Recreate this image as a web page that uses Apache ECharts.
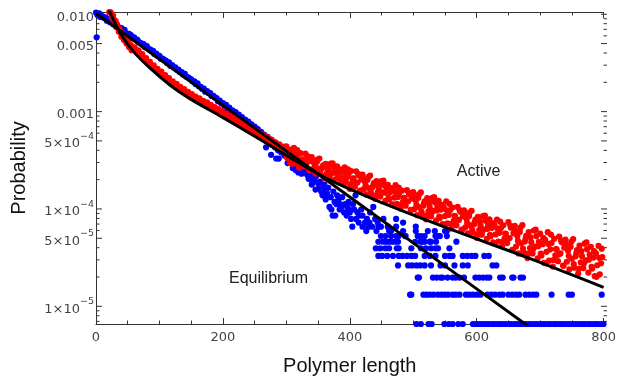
<!DOCTYPE html>
<html><head><meta charset="utf-8">
<script src="https://cdn.jsdelivr.net/npm/echarts/dist/echarts.min.js"></script>
<style>html,body{margin:0;padding:0;background:#fff}#c{width:619px;height:381px}</style>
</head><body><div id="c"></div>
<script>
// ---------------- data ----------------
const xTickValues = [0, 200, 400, 600, 800];
const yMajorTicks = [0.01, 0.005, 0.001, 5e-4, 1e-4, 5e-5, 1e-5];
const yMajorLabels = ['0.010', '0.005', '0.001', '5×10^−4', '1×10^−4', '5×10^−5', '1×10^−5'];
const yMinorTicks = [9e-3, 8e-3, 7e-3, 6e-3, 4e-3, 3e-3, 2e-3, 9e-4, 8e-4, 7e-4, 6e-4, 4e-4, 3e-4, 2e-4,
  9e-5, 8e-5, 7e-5, 6e-5, 4e-5, 3e-5, 2e-5, 9e-6, 8e-6, 7e-6];
const yRange = [6.58e-6, 0.01055];

// equilibrium (blue) points: dense band along the fit
const eqBand = [[0,1.04e-2],[1,5.8e-3],[2,9.9e-3],[5,1.02e-2],[7,9.4e-3],[10,9.6e-3],[12,9.2e-3],[15,9.3e-3],[17,8.6e-3],[20,8.9e-3],[22,8.3e-3],[25,8.4e-3],[27,7.9e-3],[30,8.1e-3],[32,7.5e-3],[35,7.4e-3],[37,7.3e-3],[40,7.2e-3],[42,6.8e-3],[45,6.9e-3],[47,6.4e-3],[50,6.3e-3],[52,6.3e-3],[55,6.1e-3],[57,5.7e-3],[60,5.8e-3],[62,5.5e-3],[65,5.5e-3],[67,5.2e-3],[70,5.1e-3],[72,5.0e-3],[75,4.95e-3],[77,4.6e-3],[80,4.7e-3],[82,4.45e-3],[85,4.35e-3],[87,4.25e-3],[90,4.2e-3],[92,3.9e-3],[95,3.95e-3],[97,3.75e-3],[100,3.75e-3],[102,3.5e-3],[105,3.5e-3],[107,3.4e-3],[110,3.35e-3],[112,3.15e-3],[115,3.2e-3],[117,2.95e-3],[120,3.0e-3],[122,2.85e-3],[125,2.85e-3],[127,2.7e-3],[130,2.7e-3],[132,2.55e-3],[135,2.55e-3],[137,2.4e-3],[140,2.45e-3],[142,2.3e-3],[145,2.25e-3],[147,2.2e-3],[150,2.15e-3],[152,2.05e-3],[155,2.05e-3],[157,1.92e-3],[160,1.95e-3],[162,1.82e-3],[165,1.8e-3],[167,1.72e-3],[170,1.72e-3],[172,1.6e-3],[175,1.62e-3],[177,1.55e-3],[180,1.55e-3],[182,1.45e-3],[185,1.45e-3],[187,1.4e-3],[190,1.38e-3],[192,1.28e-3],[195,1.3e-3],[197,1.22e-3],[200,1.22e-3],[202,1.15e-3],[205,1.17e-3],[207,1.06e-3],[210,1.1e-3],[212,1.0e-3],[215,1.03e-3],[217,9.6e-4],[220,9.9e-4],[222,9.0e-4],[225,9.3e-4],[227,8.5e-4],[230,8.8e-4],[232,8.0e-4],[235,8.3e-4],[237,7.6e-4],[240,7.9e-4],[242,7.2e-4],[245,7.4e-4],[247,6.8e-4],[250,7.0e-4],[252,6.4e-4],[255,6.6e-4],[257,6.0e-4],[260,6.2e-4],[262,5.6e-4],[265,5.8e-4],[267,5.3e-4],[268,4.3e-4],[270,5.5e-4],[272,4.9e-4],[275,5.2e-4],[276,3.6e-4],[277,4.6e-4],[280,4.9e-4],[282,4.3e-4],[284,3.3e-4],[285,4.6e-4],[287,4.0e-4],[290,4.3e-4],[292,3.8e-4],[295,4.0e-4],[297,3.55e-4],[300,3.85e-4],[302,3.4e-4]];

// equilibrium cloud where the band breaks up
const eqCloud = [[288,3.29e-4],[302,2.96e-4],[305,3.42e-4],[308,3.75e-4],[310,2.63e-4],[312,3.03e-4],[313,2.63e-4],[315,2.50e-4],[316,3.29e-4],[318,2.76e-4],[319,2.37e-4],[322,2.90e-4],[324,2.30e-4],[326,2.63e-4],[328,2.37e-4],[330,2.50e-4],[333,2.24e-4],[335,2.04e-4],[337,2.30e-4],[340,1.78e-4],[340,2.11e-4],[341,1.84e-4],[344,1.97e-4],[346,1.58e-4],[347,2.17e-4],[350,1.84e-4],[352,1.65e-4],[353,1.91e-4],[355,1.51e-4],[356,1.71e-4],[357,1.38e-4],[358,1.58e-4],[360,1.78e-4],[362,1.32e-4],[362,1.25e-4],[364,1.45e-4],[366,1.65e-4],[368,1.05e-4],[370,1.32e-4],[371,9.87e-5],[373,8.55e-5],[374,1.51e-4],[376,1.18e-4],[377,8.55e-5],[379,1.12e-4],[380,1.38e-4],[382,1.25e-4],[384,9.87e-5],[385,1.12e-4],[387,1.05e-4],[388,1.32e-4],[391,9.21e-5],[393,1.12e-4],[395,8.55e-5],[396,1.05e-4],[398,1.18e-4],[399,9.87e-5],[400,9.21e-5],[402,7.90e-5],[404,6.58e-5],[405,1.12e-4],[407,9.87e-5],[409,1.38e-4],[410,7.90e-5],[412,9.21e-5],[414,7.24e-5],[415,8.55e-5],[418,9.87e-5],[420,6.58e-5],[420,8.55e-5],[424,7.24e-5],[426,5.92e-5],[427,7.90e-5],[429,6.58e-5],[431,7.24e-5],[432,9.21e-5],[435,6.58e-5],[437,1.05e-4],[440,7.90e-5],[442,5.92e-5],[444,7.24e-5],[449,6.58e-5],[453,7.90e-5],[457,4.61e-5],[460,6.58e-5],[462,5.92e-5],[473,7.90e-5],[484,7.24e-5],[488,5.26e-5],[504,5.92e-5],[515,4.61e-5],[526,4.61e-5],[535,5.26e-5],[542,5.26e-5],[553,5.92e-5],[568,4.61e-5]];

// equilibrium tail: discrete count levels and the lengths where they occur
const eqTailLevels = [6.58e-6, 1.316e-5, 1.974e-5, 2.632e-5, 3.29e-5, 3.948e-5, 4.606e-5, 5.264e-5, 5.922e-5, 6.58e-5];
const eqTailX = [
  [505,512,524,529,549,556,562,571,578,594,598,602,606,611,615,619,624,628,633,637,641,646,651,655,660,664,669,673,677,682,686,691,695,700,704,708,713,717,722,726,731,735,739,744,748,753,757,762,766,770,775,779,784,788,792,797,800],
  [495,497,516,521,526,532,539,545,550,555,562,567,573,583,588,594,600,606,617,623,629,636,641,650,656,662,667,677,683,689,694,718,745,750,797],
  [507,509,531,537,543,546,554,562,567,573,580,598,604,610,616,620,637,641,656,658,669,673],
  [476,492,498,505,511,518,528,543,550,565,578,586,625,631],
  [445,451,459,468,477,483,490,497,503,518,526,535,550,557,562,578,585,592,598,612,619],
  [441,448,456,462,474,477,497,512,520,528,535,539,557],
  [445,452,461,466,471,476,503,511,518,528,536],
  [449,456,465,473,477,487,507,512,518,539,553],
  [465,484,523,534,550],
  [445,460,473,504]
];

// active (red) points
const actHead = [[21,1.05e-2],[23,1.047e-2],[25,1.0e-2],[25,9.33e-3],[27,9.66e-3],[28,8.51e-3],[29,8.71e-3],[31,8.51e-3],[32,7.41e-3],[33,7.94e-3],[35,7.24e-3],[36,6.61e-3],[37,7.08e-3],[39,6.53e-3],[40,5.89e-3],[41,6.38e-3],[43,5.96e-3],[44,5.43e-3],[45,5.89e-3],[47,5.56e-3],[48,5.01e-3],[49,5.37e-3],[51,5.13e-3],[52,4.62e-3],[53,4.90e-3],[55,4.79e-3],[56,4.27e-3],[57,4.62e-3],[59,4.37e-3],
[61,4.57e-3],[64,4.07e-3],[67,4.27e-3],[70,3.76e-3],[73,3.89e-3],[76,3.39e-3],[79,3.55e-3],[82,3.16e-3],[85,3.24e-3],[88,2.88e-3],[91,2.99e-3],[94,2.66e-3],[97,2.75e-3],[100,2.48e-3],[103,2.57e-3],[106,2.29e-3],[109,2.37e-3],[112,2.11e-3],[115,2.21e-3],[118,1.97e-3],[121,2.04e-3],[124,1.84e-3],[127,1.93e-3],[130,1.74e-3],[133,1.80e-3],[136,1.62e-3],[139,1.70e-3],[142,1.53e-3],[145,1.60e-3],[148,1.445e-3],[151,1.51e-3],[154,1.38e-3],[157,1.43e-3],[160,1.30e-3],[163,1.365e-3],[166,1.23e-3],[169,1.29e-3],[172,1.175e-3],[175,1.245e-3],[178,1.11e-3],[181,1.175e-3],[184,1.06e-3],[187,1.11e-3],[190,1.0e-3],[193,1.06e-3],[196,9.55e-4],[199,1.01e-3],[202,9.02e-4],[205,9.55e-4],[208,8.61e-4],[211,9.12e-4],[214,8.13e-4],[217,8.61e-4],[220,7.67e-4],[223,8.22e-4],[226,7.33e-4],[229,7.76e-4],[232,6.92e-4],[235,7.41e-4],[238,6.53e-4],[241,7.0e-4],[244,6.17e-4],[247,6.61e-4],[250,5.89e-4],[253,6.31e-4],[256,5.56e-4],[259,5.96e-4],[262,5.25e-4],[265,5.69e-4],[268,5.01e-4],[271,5.43e-4],[274,4.73e-4],[277,5.13e-4],[280,4.52e-4],[283,4.84e-4],[286,4.27e-4],[289,4.62e-4],[292,4.03e-4],[295,4.37e-4],[298,3.89e-4]];

const actTail = [[300,4.40e-4],[302,3.31e-4],[304,3.78e-4],[306,2.97e-4],[308,3.93e-4],
[310,3.35e-4],[312,4.25e-4],[314,2.94e-4],[316,3.37e-4],[318,3.61e-4],
[320,2.67e-4],[322,3.74e-4],[324,3.01e-4],[326,3.22e-4],[328,2.75e-4],
[330,3.71e-4],[332,2.97e-4],[334,3.40e-4],[336,2.51e-4],[338,3.11e-4],
[340,3.40e-4],[342,2.57e-4],[344,2.93e-4],[346,2.31e-4],[348,3.04e-4],
[350,2.60e-4],[352,3.29e-4],[354,2.29e-4],[356,2.61e-4],[358,2.80e-4],
[360,2.07e-4],[362,2.91e-4],[364,2.34e-4],[366,2.52e-4],[368,2.16e-4],
[370,2.92e-4],[372,2.35e-4],[374,2.69e-4],[376,2.00e-4],[378,2.49e-4],
[380,2.74e-4],[382,2.07e-4],[384,2.36e-4],[386,1.86e-4],[388,2.46e-4],
[390,2.10e-4],[392,2.67e-4],[394,1.86e-4],[396,2.12e-4],[398,2.29e-4],
[400,1.61e-4],[402,2.45e-4],[404,1.88e-4],[406,2.05e-4],[408,1.69e-4],
[410,2.44e-4],[412,1.87e-4],[414,2.22e-4],[416,1.54e-4],[418,2.01e-4],
[420,2.26e-4],[422,1.60e-4],[424,1.89e-4],[426,1.41e-4],[428,1.99e-4],
[430,1.64e-4],[432,2.20e-4],[434,1.42e-4],[436,1.67e-4],[438,1.84e-4],
[440,1.27e-4],[442,1.93e-4],[444,1.48e-4],[446,1.62e-4],[448,1.34e-4],
[450,1.93e-4],[452,1.48e-4],[454,1.75e-4],[456,1.21e-4],[458,1.58e-4],
[460,1.77e-4],[462,1.26e-4],[464,1.49e-4],[466,1.12e-4],[468,1.58e-4],
[470,1.31e-4],[472,1.76e-4],[474,1.13e-4],[476,1.33e-4],[478,1.46e-4],
[480,1.01e-4],[482,1.54e-4],[484,1.19e-4],[486,1.30e-4],[488,1.08e-4],
[490,1.56e-4],[492,1.20e-4],[494,1.41e-4],[496,9.79e-5],[498,1.28e-4],
[500,1.49e-4],[502,9.98e-5],[504,1.22e-4],[506,8.65e-5],[508,1.30e-4],
[510,1.04e-4],[512,1.48e-4],[514,8.81e-5],[516,1.08e-4],[518,1.20e-4],
[520,7.83e-5],[522,1.29e-4],[524,9.44e-5],[526,1.05e-4],[528,8.41e-5],
[530,1.30e-4],[532,9.57e-5],[534,1.17e-4],[536,7.62e-5],[538,1.05e-4],
[540,1.21e-4],[542,8.09e-5],[544,9.86e-5],[546,7.01e-5],[548,1.05e-4],
[550,8.45e-5],[552,1.20e-4],[554,7.11e-5],[556,8.69e-5],[558,9.68e-5],
[560,6.30e-5],[562,1.035e-4],[564,7.59e-5],[566,8.47e-5],[568,6.79e-5],
[570,1.05e-4],[572,7.71e-5],[574,9.40e-5],[576,6.12e-5],[578,8.41e-5],
[580,9.66e-5],[582,6.47e-5],[584,7.89e-5],[586,5.62e-5],[588,8.45e-5],
[590,6.78e-5],[592,9.59e-5],[594,5.70e-5],[596,6.97e-5],[598,7.76e-5],
[600,5.05e-5],[602,8.30e-5],[604,6.08e-5],[606,6.79e-5],[608,5.44e-5],
[610,8.43e-5],[612,6.19e-5],[614,7.57e-5],[616,4.94e-5],[618,6.81e-5],
[620,7.83e-5],[622,5.25e-5],[624,6.40e-5],[626,4.55e-5],[628,6.84e-5],
[630,5.48e-5],[632,7.78e-5],[634,4.63e-5],[636,5.68e-5],[638,6.34e-5],
[640,4.13e-5],[642,6.79e-5],[644,4.98e-5],[646,5.56e-5],[648,4.46e-5],
[650,7.34e-5],[652,5.02e-5],[654,6.43e-5],[656,3.80e-5],[658,5.64e-5],
[660,6.70e-5],[662,4.11e-5],[664,5.27e-5],[666,3.49e-5],[668,5.79e-5],
[670,4.44e-5],[672,6.82e-5],[674,3.61e-5],[676,4.62e-5],[678,5.30e-5],
[680,3.13e-5],[682,5.79e-5],[684,3.97e-5],[686,4.56e-5],[688,3.49e-5],
[690,6.01e-5],[692,4.11e-5],[694,5.26e-5],[696,3.10e-5],[698,4.60e-5],
[700,5.57e-5],[702,3.33e-5],[704,4.35e-5],[706,2.80e-5],[708,4.81e-5],
[710,3.63e-5],[712,5.77e-5],[714,2.94e-5],[716,3.85e-5],[718,4.47e-5],
[720,2.56e-5],[722,4.95e-5],[724,3.33e-5],[726,3.85e-5],[728,2.91e-5],
[730,5.20e-5],[732,3.49e-5],[734,4.56e-5],[736,2.62e-5],[738,4.00e-5],
[740,4.83e-5],[742,2.87e-5],[744,3.73e-5],[746,2.39e-5],[748,4.09e-5],
[750,3.08e-5],[752,4.89e-5],[754,2.49e-5],[756,3.26e-5],[758,3.78e-5],
[760,2.17e-5],[762,4.20e-5],[764,2.82e-5],[766,3.27e-5],[768,2.47e-5],
[770,4.41e-5],[772,2.96e-5],[774,3.86e-5],[776,2.22e-5],[778,3.39e-5],
[780,4.09e-5],[782,2.44e-5],[784,3.17e-5],[786,2.04e-5],[788,3.50e-5],
[790,2.64e-5],[792,4.18e-5],[794,2.13e-5],[796,2.77e-5],[798,3.21e-5]];

// further active points between the ones above
const actTailB = [[301,3.40e-4],[305,4.08e-4],[309,2.92e-4],[313,3.65e-4],[317,4.03e-4],[321,2.88e-4],[325,3.24e-4],[329,2.97e-4],[333,3.49e-4],[337,2.49e-4],
[341,3.18e-4],[345,2.74e-4],[349,3.22e-4],[353,2.40e-4],[357,2.70e-4],[361,2.19e-4],[365,2.69e-4],[369,2.29e-4],[373,2.94e-4],[377,2.35e-4],
[381,2.12e-4],[385,2.55e-4],[389,1.83e-4],[393,2.30e-4],[397,2.55e-4],[401,1.77e-4],[405,2.06e-4],[409,1.86e-4],[413,2.29e-4],[417,1.53e-4],
[421,2.08e-4],[425,1.74e-4],[429,2.13e-4],[433,1.50e-4],[437,1.75e-4],[441,1.36e-4],[445,1.76e-4],[449,1.44e-4],[453,1.95e-4],[457,1.47e-4],
[461,1.30e-4],[465,1.64e-4],[469,1.10e-4],[473,1.46e-4],[477,1.66e-4],[481,1.11e-4],[485,1.30e-4],[489,1.19e-4],[493,1.46e-4],[497,9.73e-5],
[501,1.35e-4],[505,1.10e-4],[509,1.41e-4],[513,9.40e-5],[517,1.14e-4],[521,8.51e-5],[525,1.16e-4],[529,9.16e-5],[533,1.32e-4],[537,9.64e-5],
[541,8.37e-5],[545,1.10e-4],[549,6.89e-5],[553,9.66e-5],[557,1.13e-4],[561,7.06e-5],[565,8.51e-5],[569,7.60e-5],[573,9.75e-5],[577,6.08e-5],
[581,8.79e-5],[585,7.18e-5],[589,9.18e-5],[593,6.10e-5],[597,7.34e-5],[601,5.50e-5],[605,7.46e-5],[609,5.92e-5],[613,8.57e-5],[617,6.25e-5],
[621,5.43e-5],[625,7.16e-5],[629,4.47e-5],[633,6.28e-5],[637,7.40e-5],[641,4.63e-5],[645,5.58e-5],[649,4.99e-5],[653,6.71e-5],[657,3.78e-5],
[661,5.97e-5],[665,4.70e-5],[669,6.44e-5],[673,3.91e-5],[677,4.94e-5],[681,3.48e-5],[685,5.12e-5],[689,3.88e-5],[693,6.12e-5],[697,4.14e-5],
[701,3.47e-5],[705,5.06e-5],[709,2.77e-5],[713,4.37e-5],[717,5.45e-5],[721,2.99e-5],[725,3.87e-5],[729,3.40e-5],[733,4.75e-5],[737,2.61e-5],
[741,4.27e-5],[745,3.30e-5],[749,4.58e-5],[753,2.71e-5],[757,3.51e-5],[761,2.43e-5],[765,3.69e-5],[769,2.77e-5],[773,4.53e-5],[777,3.02e-5],
[781,2.55e-5],[785,3.69e-5],[789,2.01e-5],[793,3.15e-5],[797,3.91e-5]];

// fitted curves (black)
const eqFitX = [0, 200, 400, 600, 700];
const eqFitY = [1.024e-2, 1.165e-3, 1.326e-4, 1.509e-5, 5.09e-6];
const actFitX = [12.5, 21.9, 39.1, 59.5, 86.1, 117.4, 147.2, 198.8, 252.1, 303.7, 363.2, 452.5, 557.4, 684.2, 800];
const actFitY = [1.39e-2, 1.048e-2, 6.26e-3, 4.11e-3, 2.76e-3, 1.855e-3, 1.368e-3, 8.77e-4, 5.49e-4, 3.44e-4, 2.06e-4, 1.146e-4, 6.23e-5, 3.09e-5, 1.567e-5];

// annotations (data coordinates)
const labelActive = {text: 'Active', at: [603, 2.40e-4]};
const labelEquilibrium = {text: 'Equilibrium', at: [272, 1.94e-5]};

// ---------------- chart ----------------
const eqTail = [];
eqTailLevels.forEach((lv, i) => eqTailX[i].forEach(x => eqTail.push([x, lv])));
const blueAll = eqBand.concat(eqCloud, eqTail);
const redAll = actHead.concat(actTail, actTailB);
const eqFit = eqFitX.map((x, i) => [x, eqFitY[i]]);
const actFit = actFitX.map((x, i) => [x, actFitY[i]]);

const axisColor = '#333';
const tickFont = 'DejaVu Sans';
const chart = echarts.init(document.getElementById('c'), null, {renderer: 'canvas'});

const xAxisBase = {
  type: 'value', min: 0, max: 800, interval: 200,
  axisLine: {show: true, lineStyle: {color: axisColor, width: 1}},
  axisTick: {show: true, inside: true, length: 6, lineStyle: {color: axisColor}},
  minorTick: {show: true, splitNumber: 4, length: 3.5, lineStyle: {color: axisColor}},
  splitLine: {show: false}, minorSplitLine: {show: false}
};
const yAxisBase = {
  type: 'log', logBase: 10, min: yRange[0], max: yRange[1],
  axisLine: {show: true, lineStyle: {color: axisColor, width: 1}},
  axisTick: {show: false}, axisLabel: {show: false}, splitLine: {show: false}
};

chart.setOption({
  animation: false,
  backgroundColor: '#fff',
  grid: {left: 96, right: 12, top: 12, bottom: 54, containLabel: false},
  xAxis: [
    Object.assign({}, xAxisBase, {
      position: 'bottom',
      axisLabel: {fontFamily: tickFont, fontSize: 13, color: '#444', margin: 7},
      name: 'Polymer length', nameLocation: 'middle', nameGap: 32,
      nameTextStyle: {fontFamily: 'Liberation Sans', fontSize: 20, color: '#111'}
    }),
    Object.assign({}, xAxisBase, {position: 'top', axisLabel: {show: false}})
  ],
  yAxis: [
    Object.assign({}, yAxisBase, {
      position: 'left',
      name: 'Probability', nameLocation: 'middle', nameGap: 67, nameRotate: 90,
      nameTextStyle: {fontFamily: 'Liberation Sans', fontSize: 20, color: '#111'}
    }),
    Object.assign({}, yAxisBase, {position: 'right'})
  ],
  series: [
    {type: 'scatter', data: blueAll, symbolSize: 6.2, clip: false,
     itemStyle: {color: '#0000ff', opacity: 1}, z: 2},
    {type: 'scatter', data: redAll, symbolSize: 6.2, clip: true,
     itemStyle: {color: '#ff0000', opacity: 1}, z: 3},
    {type: 'line', data: eqFit, showSymbol: false, symbol: 'none', clip: true,
     lineStyle: {color: '#000', width: 3}, z: 4},
    {type: 'line', data: actFit, showSymbol: false, symbol: 'none', smooth: 0.35, clip: true,
     lineStyle: {color: '#000', width: 3}, z: 4}
  ]
});

// custom log ticks and labels placed through the axis scale
const gLeft = 96, gRight = 607;
const graphics = [];
yMajorTicks.forEach((v, i) => {
  const y = chart.convertToPixel({yAxisIndex: 0}, v);
  graphics.push({type: 'line', shape: {x1: gLeft, y1: y, x2: gLeft + 6, y2: y}, style: {stroke: axisColor, lineWidth: 1}, silent: true});
  graphics.push({type: 'line', shape: {x1: gRight - 6, y1: y, x2: gRight, y2: y}, style: {stroke: axisColor, lineWidth: 1}, silent: true});
  const parts = yMajorLabels[i].split('^');
  const txt = parts.length > 1 ? '{b|' + parts[0] + '}{s|' + parts[1] + '}' : '{b|' + parts[0] + '}';
  graphics.push({type: 'text', x: gLeft - 2, y: y, silent: true,
    style: {text: txt, align: 'right', verticalAlign: 'middle',
      rich: {
        b: {fontFamily: tickFont, fontSize: 13, fill: '#444', color: '#444', verticalAlign: 'bottom', lineHeight: 19},
        s: {fontFamily: tickFont, fontSize: 9.5, fill: '#444', color: '#444', verticalAlign: 'top', lineHeight: 19}
      }}});
});
yMinorTicks.forEach(v => {
  const y = chart.convertToPixel({yAxisIndex: 0}, v);
  graphics.push({type: 'line', shape: {x1: gLeft, y1: y, x2: gLeft + 3.5, y2: y}, style: {stroke: axisColor, lineWidth: 1}, silent: true});
  graphics.push({type: 'line', shape: {x1: gRight - 3.5, y1: y, x2: gRight, y2: y}, style: {stroke: axisColor, lineWidth: 1}, silent: true});
});
[labelActive, labelEquilibrium].forEach(l => {
  const p = chart.convertToPixel({xAxisIndex: 0, yAxisIndex: 0}, l.at);
  graphics.push({type: 'text', x: p[0], y: p[1], silent: true,
    style: {text: l.text, align: 'center', verticalAlign: 'middle', fontFamily: 'Liberation Sans', fontSize: 16, fill: '#222'}});
});
chart.setOption({graphic: graphics});
</script>
</body></html>
